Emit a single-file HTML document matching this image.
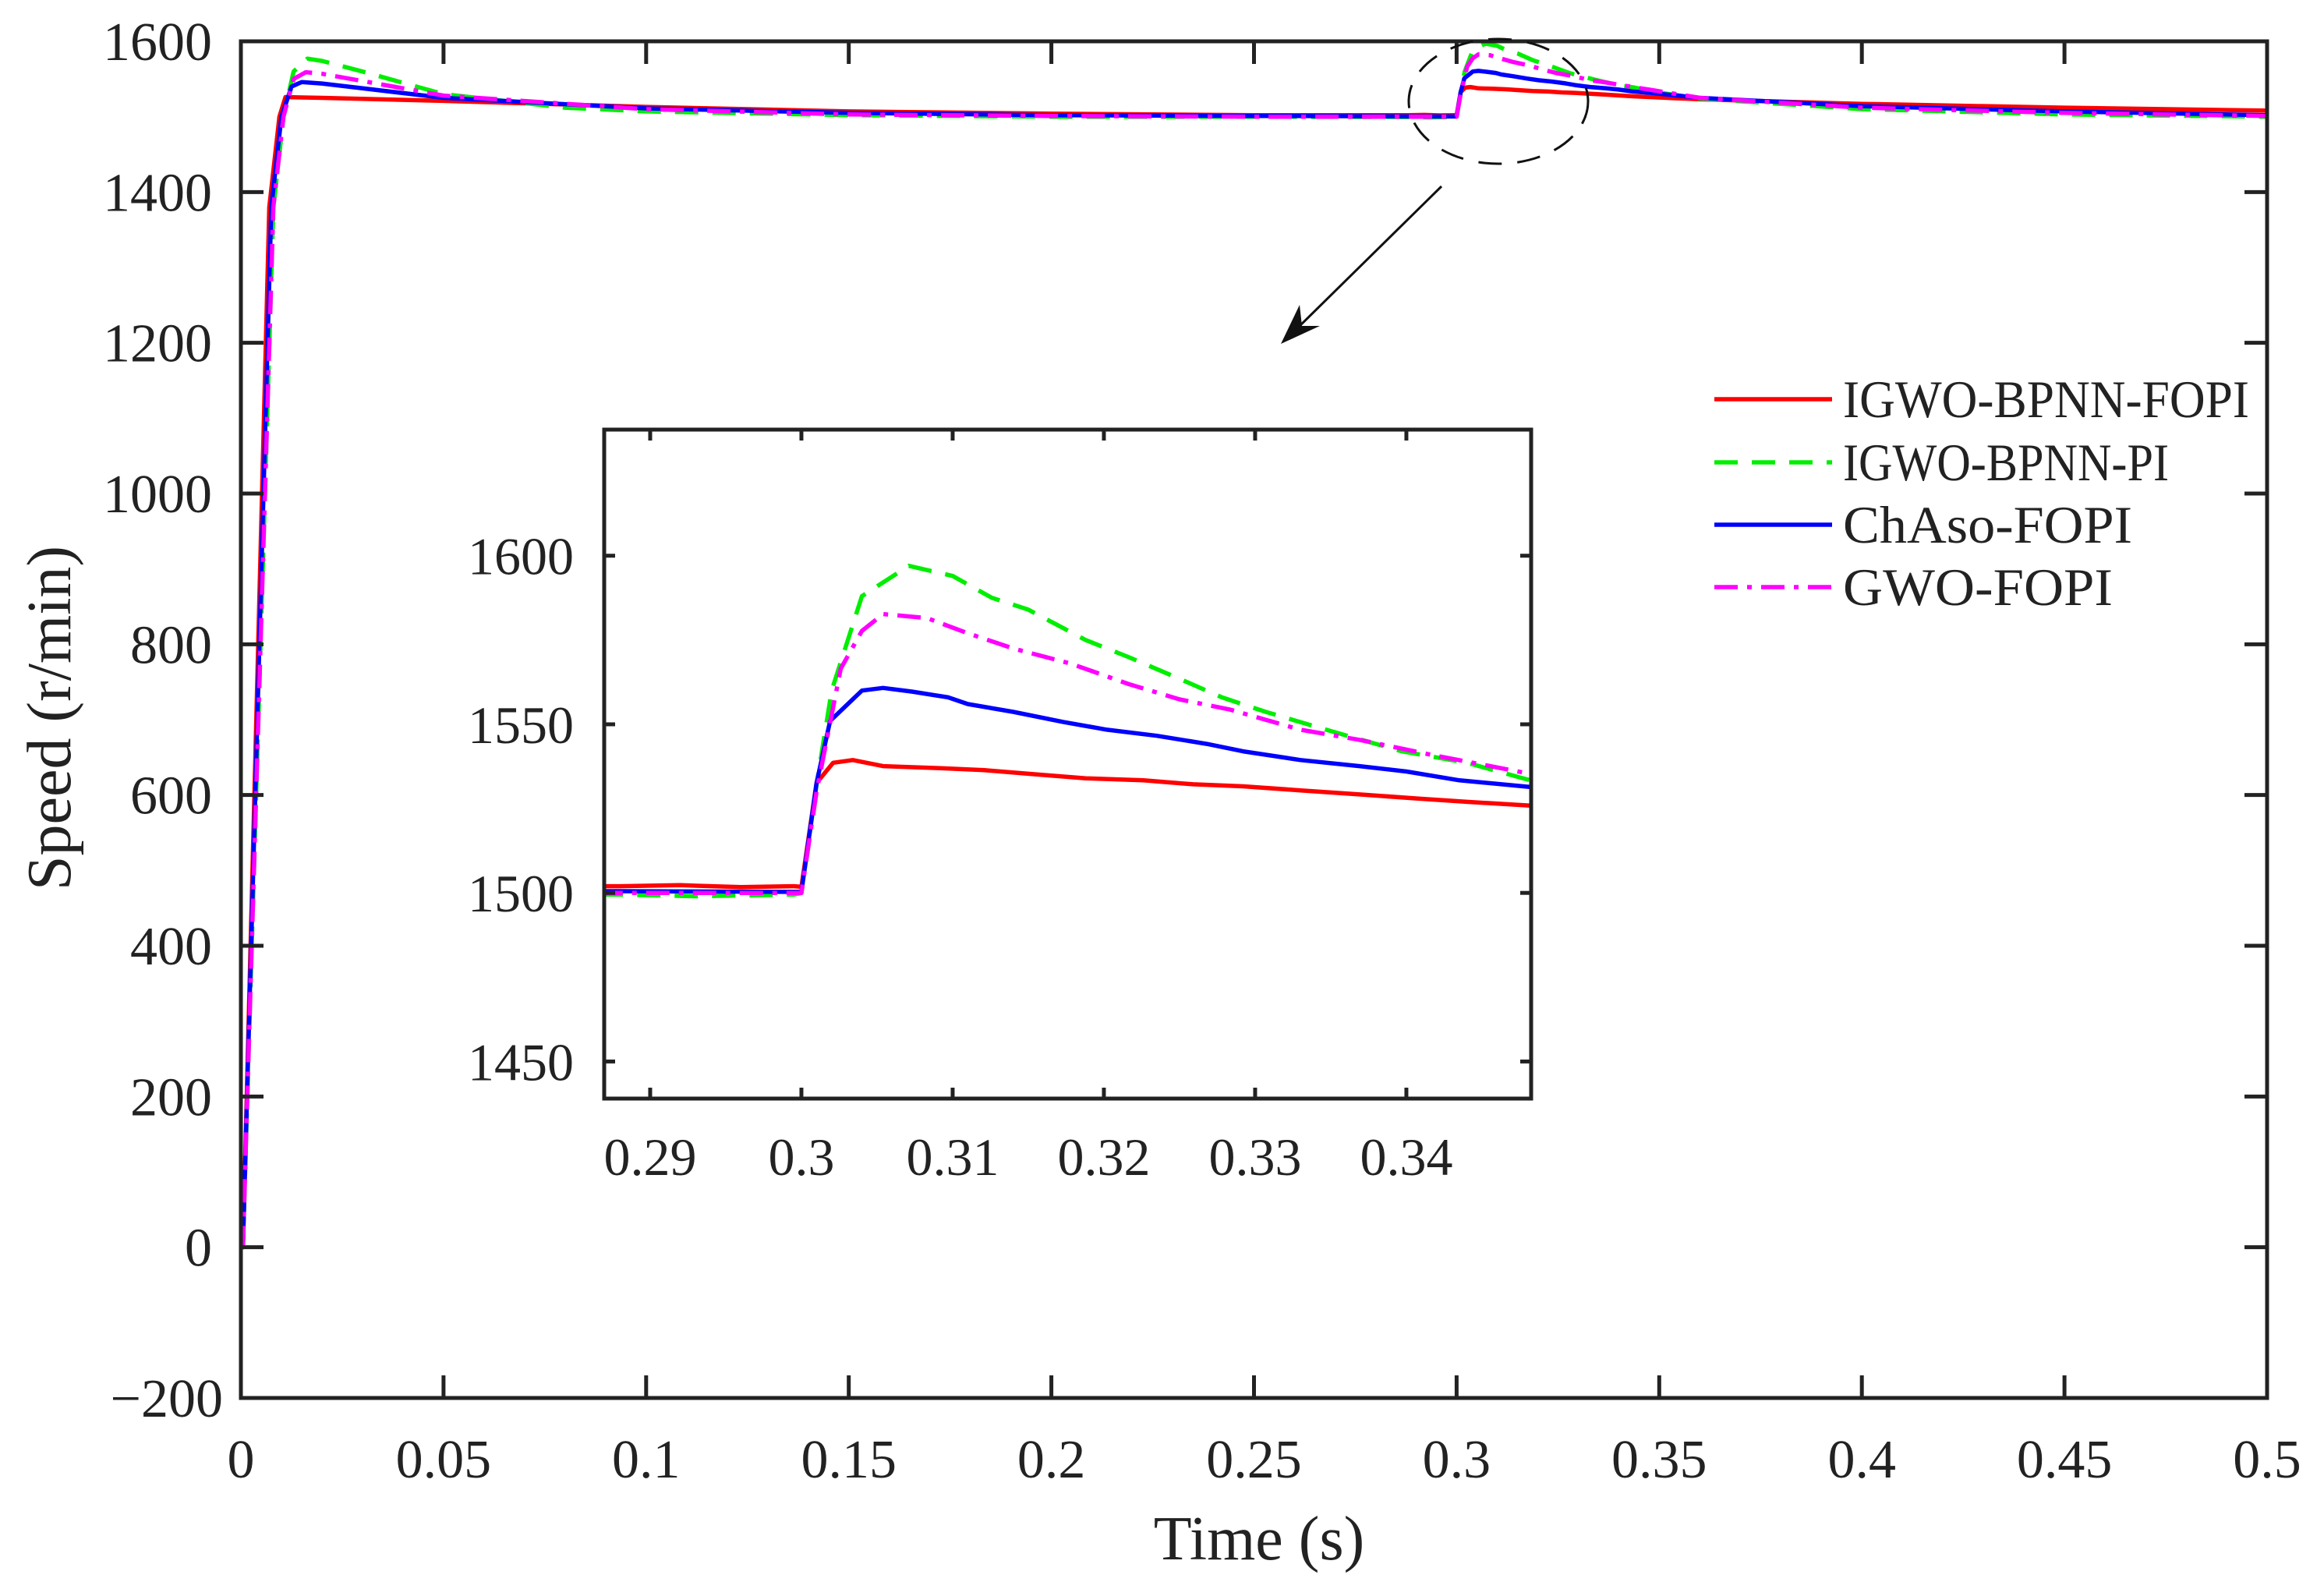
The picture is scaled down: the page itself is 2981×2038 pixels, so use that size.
<!DOCTYPE html>
<html><head><meta charset="utf-8"><style>
html,body{margin:0;padding:0;background:#fff;overflow:hidden;width:2981px;height:2038px;}
svg{display:block;}
text{font-family:"Liberation Serif",serif;fill:#222;}
</style></head><body>
<svg id="chart" width="2981" height="2038" viewBox="0 0 2981 2038" xmlns="http://www.w3.org/2000/svg">
<defs>
<clipPath id="mainClip"><rect x="309" y="53" width="2599" height="1740"/></clipPath>
<clipPath id="insetClip"><rect x="775" y="551" width="1189" height="858"/></clipPath>
</defs>
<rect x="0" y="0" width="2981" height="2038" fill="#fff"/>
<g id="main"></g>
<g id="inset"></g>
<text x="0" y="0" font-size="80" text-anchor="middle" transform="translate(90,921) rotate(-90)">Speed  (r/min)</text>
<text x="1615" y="2000" font-size="80" text-anchor="middle">Time  (s)</text>
<ellipse cx="1922" cy="130" rx="115" ry="80" fill="none" stroke="#111" stroke-width="3" stroke-dasharray="30,20"/>
<g>
<line x1="1849" y1="239" x2="1660" y2="425" stroke="#111" stroke-width="3"/>
<polygon points="1643,441 1667,391 1670,418 1693,418" fill="#111"/>
</g>
<g id="legend"></g>
</svg>
<script>
const seriesNames = ["IGWO-BPNN-FOPI","IGWO-BPNN-PI","ChAso-FOPI","GWO-FOPI"];
const insetXTicks = [0.29,0.30,0.31,0.32,0.33,0.34];
const insetXLabels = ["0.29","0.3","0.31","0.32","0.33","0.34"];
const insetYTicks = [1450,1500,1550,1600];
const mainXTicks = [0,0.05,0.1,0.15,0.2,0.25,0.3,0.35,0.4,0.45,0.5];
const mainXLabels = ["0","0.05","0.1","0.15","0.2","0.25","0.3","0.35","0.4","0.45","0.5"];
const mainYTicks = [-200,0,200,400,600,800,1000,1200,1400,1600];
const mainYLabels = ["\u2212200","0","200","400","600","800","1000","1200","1400","1600"];

const redStepT = [0.3,0.301,0.3021,0.3034,0.3054,0.3092,0.3121,0.3154,0.3188,0.3226,0.3259,0.3292,0.333,0.3369,0.3407,0.344,0.3482];
const redStepV = [1501.8,1532.6,1538.6,1539.4,1537.6,1537,1536.4,1535.2,1534,1533.4,1532.2,1531.6,1530.4,1529.2,1528,1527,1525.9];
const greenStepT = [0.3,0.301,0.302,0.304,0.3071,0.310,0.3126,0.315,0.3188,0.3216,0.325,0.3278,0.3307,0.335,0.3397,0.344,0.3482];
const greenStepV = [1500,1532,1560,1588,1597,1594,1587.5,1584,1575,1570,1563.5,1558,1553.7,1548,1542,1538.6,1533.4];
const blueStepT = [0.3,0.301,0.3019,0.304,0.3054,0.3073,0.3097,0.311,0.314,0.3173,0.3202,0.3235,0.3268,0.3292,0.333,0.3369,0.34,0.3435,0.3482];
const blueStepV = [1500.3,1532.6,1551,1560,1560.8,1559.7,1558,1556,1553.7,1550.7,1548.4,1546.6,1544.2,1542,1539.4,1537.6,1536,1533.4,1531.4];
const magStepT = [0.3,0.301,0.3026,0.304,0.3054,0.3083,0.311,0.314,0.3178,0.3216,0.325,0.3283,0.333,0.3369,0.3416,0.3482];
const magStepV = [1500,1530,1566.5,1577.7,1582.7,1581.5,1577,1572.5,1568,1562,1557.4,1554.4,1548.4,1545.4,1541,1535.3];

const redPreT = [0,0.0005,0.007,0.0095,0.011,0.02,0.05,0.1,0.15,0.2,0.25,0.288,0.292,0.296,0.2995];
const redPreV = [0,0,1380,1500,1526,1525,1521,1513,1507,1504,1502,1502,1502.3,1501.7,1502];
const redPostT = [0.36,0.4,0.45,0.5];
const redPostV = [1523,1517,1512,1508];
const greenPreT = [0,0.0005,0.008,0.0105,0.013,0.0164,0.02,0.03,0.05,0.08,0.1,0.15,0.2,0.25,0.288,0.293,0.2995];
const greenPreV = [0,0,1380,1500,1560,1577,1574,1560,1530,1512,1507,1502,1500,1500,1499.5,1499,1499.5];
const greenPostT = [0.36,0.4,0.45,0.5];
const greenPostV = [1524,1510,1503,1500];
const bluePreT = [0,0.0005,0.0075,0.01,0.0125,0.015,0.02,0.05,0.1,0.15,0.2,0.25,0.288,0.2995];
const bluePreV = [0,0,1380,1500,1540,1546,1544,1525,1511,1505,1502,1501,1500.5,1500.3];
const bluePostT = [0.36,0.4,0.45,0.5];
const bluePostV = [1525,1514,1507,1502];
const magPreT = [0,0.0005,0.008,0.0105,0.013,0.016,0.02,0.05,0.1,0.15,0.2,0.25,0.288,0.2995];
const magPreV = [0,0,1380,1500,1550,1559,1557,1528,1510,1503,1501,1500,1500,1500];
const magPostT = [0.36,0.4,0.45,0.5];
const magPostV = [1525,1512,1505,1501];

const NS = "http://www.w3.org/2000/svg";
function mk(tag, attrs, parent){const e=document.createElementNS(NS,tag);for(const k in attrs)e.setAttribute(k,attrs[k]);parent.appendChild(e);return e;}

const M = {x0:309,x1:2908,y0:53,y1:1793,xmin:0,xmax:0.5,ymin:-200,ymax:1600};
const I = {x0:775,x1:1964,y0:551,y1:1409,xmin:0.28696,xmax:0.34825,ymin:1439,ymax:1637.4};
function sx(a,t){return a.x0+(t-a.xmin)/(a.xmax-a.xmin)*(a.x1-a.x0);}
function sy(a,v){return a.y1-(v-a.ymin)/(a.ymax-a.ymin)*(a.y1-a.y0);}

const styles = [
 {color:"#ff0000",dash:null},
 {color:"#00ee00",dash:"30,18"},
 {color:"#0000ff",dash:null},
 {color:"#ff00ff",dash:"30,12,6,12"}
];
const fullT = [redPreT.concat(redStepT,redPostT),greenPreT.concat(greenStepT,greenPostT),bluePreT.concat(blueStepT,bluePostT),magPreT.concat(magStepT,magPostT)];
const fullV = [redPreV.concat(redStepV,redPostV),greenPreV.concat(greenStepV,greenPostV),bluePreV.concat(blueStepV,bluePostV),magPreV.concat(magStepV,magPostV)];
const seriesKeys = ["igwo-bpnn-fopi","igwo-bpnn-pi","chaso-fopi","gwo-fopi"];

function drawAxes(g,a,xt,xl,yt,yl,tick,xlabY,ylabX,fs,prefix){
  mk("rect",{x:a.x0,y:a.y0,width:a.x1-a.x0,height:a.y1-a.y0,fill:"none",stroke:"#222","stroke-width":5},g);
  xt.forEach((t,i)=>{
    const x=sx(a,t);
    mk("line",{x1:x,y1:a.y1,x2:x,y2:a.y1-tick,stroke:"#222","stroke-width":5},g);
    mk("line",{x1:x,y1:a.y0,x2:x,y2:a.y0+tick,stroke:"#222","stroke-width":5},g);
    const tx=mk("text",{x:x,y:xlabY,"font-size":fs,"text-anchor":"middle"},g);
    tx.textContent=xl[i];
    
    
  });
  yt.forEach((v,i)=>{
    const y=sy(a,v);
    mk("line",{x1:a.x0,y1:y,x2:a.x0+tick,y2:y,stroke:"#222","stroke-width":5},g);
    mk("line",{x1:a.x1,y1:y,x2:a.x1-tick,y2:y,stroke:"#222","stroke-width":5},g);
    const tx=mk("text",{x:(yl[i][0]==="\u2212"?ylabX+14:ylabX),y:y+24,"font-size":fs,"text-anchor":"end"},g);
    tx.textContent=yl[i];
    
    
  });
}
function drawSeries(g,a,clip,prefix){
  const cg=mk("g",{"clip-path":"url(#"+clip+")"},g);
  fullT.forEach((ts,k)=>{
    const pts=ts.map((t,i)=>sx(a,t).toFixed(1)+","+sy(a,fullV[k][i]).toFixed(1)).join(" ");
    const p=mk("polyline",{points:pts,fill:"none",stroke:styles[k].color,"stroke-width":5.5,"stroke-linejoin":"round"},cg);
    if(styles[k].dash)p.setAttribute("stroke-dasharray",styles[k].dash);
    
    
  });
}
const main=document.getElementById("main");


mk("rect",{x:M.x0,y:M.y0,width:M.x1-M.x0,height:M.y1-M.y0,fill:"#fff"},main);
drawSeries(main,M,"mainClip","main-");
drawAxes(main,M,mainXTicks,mainXLabels,mainYTicks,mainYLabels,29,1895,272,70,"main-");

const inset=document.getElementById("inset");


mk("rect",{x:I.x0,y:I.y0,width:I.x1-I.x0,height:I.y1-I.y0,fill:"#fff"},inset);
drawSeries(inset,I,"insetClip","inset-");
drawAxes(inset,I,insetXTicks,insetXLabels,insetYTicks,insetYTicks.map(String),14,1507,736,68,"inset-");

const leg=document.getElementById("legend");
const legY=[512,593,673,753];
const legW=[521,418,371,346];
seriesNames.forEach((n,k)=>{
  const ln=mk("line",{x1:2199,y1:legY[k],x2:2350,y2:legY[k],stroke:styles[k].color,"stroke-width":5.5},leg);
  if(styles[k].dash)ln.setAttribute("stroke-dasharray",styles[k].dash);
  
  
  const t=mk("text",{x:2364,y:legY[k]+23,"font-size":68,textLength:legW[k],lengthAdjust:"spacingAndGlyphs"},leg);
  t.textContent=n;
  
  
});
</script>
</body></html>
